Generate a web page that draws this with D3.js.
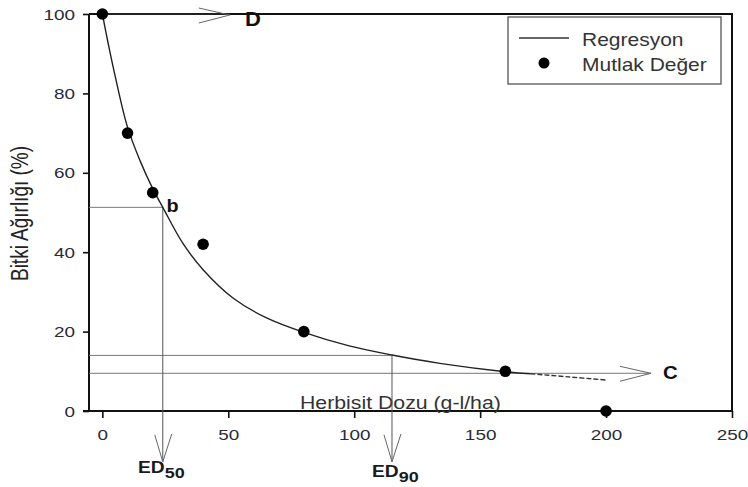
<!doctype html>
<html>
<head>
  <meta charset="utf-8">
  <script src="https://d3js.org/d3.v7.min.js"></script>
  <style>
    body { margin:0; background:#fff; }
    text { font-family: "Liberation Sans", Arial, sans-serif; }
  </style>
</head>
<body>
  <script>
    // measured points (Mutlak Değer)
    var doses = [0, 10, 20, 40, 80, 160, 200];
    var weights = [100, 70, 55, 42, 20, 10, 0];

    // regression curve
    var curveDose = [0, 2.5, 5, 10, 15, 20, 24, 32, 40, 52, 65, 80, 98, 115, 134, 160, 170];
    var curveWeight = [100, 92, 84.6, 71.5, 63, 56, 51.3, 42.2, 35.6, 28.4, 23.5, 19.8, 16.4, 14.1, 12.0, 9.9, 9.4];
    // dashed tail of the curve
    var tailDose = [170, 185, 200];
    var tailWeight = [9.4, 8.6, 7.8];

    var xTicks = [0, 50, 100, 150, 200, 250];
    var yTicks = [0, 20, 40, 60, 80, 100];

    // asymptotes and effective doses
    var upperD = 100, lowerC = 9.5;
    var ed50 = [24, 51.3], ed90 = [115, 14];
    var dArrowEnd = 50.6, cArrowEnd = 217.8, edArrowEnd = -12.8;

    var width = 748, height = 487;

    var svg = d3.select("body").append("svg")
      .attr("width", width)
      .attr("height", height);

    var x = d3.scaleLinear().domain([-5.3, 250]).range([89, 732]);
    var y = d3.scaleLinear().domain([0, 100]).range([411, 14]);

    // frame
    svg.append("path")
      .attr("d", "M" + x(-5.3) + "," + y(100) + "H" + x(250) + "V" + y(0))
      .attr("fill", "none").attr("stroke", "#111").attr("stroke-width", 2);
    svg.append("line")
      .attr("x1", x(-5.3)).attr("x2", x(-5.3)).attr("y1", y(100)).attr("y2", y(0))
      .attr("stroke", "#111").attr("stroke-width", 2);
    svg.append("line")
      .attr("x1", x(-5.3) - 6).attr("x2", x(250)).attr("y1", y(0)).attr("y2", y(0))
      .attr("stroke", "#111").attr("stroke-width", 2);

    // axes
    var leftAxis = svg.append("g")
      .attr("transform", "translate(" + x(-5.3) + ",0)")
      .call(d3.axisLeft(y).tickValues(yTicks).tickSize(6).tickSizeOuter(0));
    var bottomAxis = svg.append("g")
      .attr("transform", "translate(0," + y(0) + ")")
      .call(d3.axisBottom(x).tickValues(xTicks).tickSize(7).tickSizeOuter(0));

    [leftAxis, bottomAxis].forEach(function(g){
      g.select(".domain").remove();
      g.selectAll(".tick line").attr("stroke", "#111").attr("stroke-width", 1.6);
      g.selectAll(".tick text").attr("fill", "#2a2a38").attr("font-size", 14)
        .attr("font-family", "Liberation Sans, Arial, sans-serif");
    });
    leftAxis.selectAll(".tick text")
      .attr("x", 0).attr("dy", "0.36em")
      .attr("transform", "translate(-14,0) scale(1.35,1)");
    bottomAxis.selectAll(".tick text")
      .attr("y", 29).attr("dy", 0)
      .attr("transform", "scale(1.35,1)");

    // axis titles
    svg.append("text")
      .attr("transform", "translate(27.5,213.5) scale(1.3,1) rotate(-90)")
      .attr("text-anchor", "middle")
      .attr("font-size", 19)
      .attr("fill", "#222")
      .text("Bitki Ağırlığı (%)");

    svg.append("text")
      .attr("transform", "translate(300,408.5) scale(1.15,1)")
      .attr("font-size", 18.5)
      .attr("fill", "#333")
      .text("Herbisit Dozu (g-l/ha)");

    // reference lines
    var grey = "#777";
    function hline(v, x2){
      svg.append("line")
        .attr("x1", x(-5.3)).attr("x2", x(x2))
        .attr("y1", y(v)).attr("y2", y(v))
        .attr("stroke", grey).attr("stroke-width", 1);
    }
    hline(ed50[1], ed50[0]);
    hline(ed90[1], ed90[0]);
    hline(lowerC, cArrowEnd);

    function vline(d){
      svg.append("line")
        .attr("x1", x(d[0])).attr("x2", x(d[0]))
        .attr("y1", y(d[1])).attr("y2", y(edArrowEnd))
        .attr("stroke", "#555").attr("stroke-width", 1);
    }
    vline(ed50);
    vline(ed90);

    // D arrow line
    svg.append("line")
      .attr("x1", x(0)).attr("x2", x(dArrowEnd))
      .attr("y1", y(upperD)).attr("y2", y(upperD))
      .attr("stroke", "#333").attr("stroke-width", 1.2);

    // open arrow heads
    function headRight(px, py){
      svg.append("path")
        .attr("d", "M" + (px - 31) + "," + (py - 7) + "L" + px + "," + py + "L" + (px - 31) + "," + (py + 8))
        .attr("fill", "none").attr("stroke", "#666").attr("stroke-width", 1);
    }
    function headDown(px, py){
      svg.append("path")
        .attr("d", "M" + (px - 8) + "," + (py - 27) + "L" + px + "," + py + "L" + (px + 9) + "," + (py - 28))
        .attr("fill", "none").attr("stroke", "#666").attr("stroke-width", 1);
    }
    headRight(x(dArrowEnd), y(upperD) + 1);
    headRight(x(cArrowEnd), y(lowerC));
    headDown(x(ed50[0]), y(edArrowEnd));
    headDown(x(ed90[0]), y(edArrowEnd));

    // regression curve
    var line = d3.line()
      .x(function(d){ return x(d[0]); })
      .y(function(d){ return y(d[1]); })
      .curve(d3.curveCatmullRom.alpha(0.5));

    svg.append("path")
      .datum(curveDose.map(function(d, i){ return [d, curveWeight[i]]; }))
      .attr("d", line)
      .attr("fill", "none").attr("stroke", "#222").attr("stroke-width", 1.4);
    svg.append("path")
      .datum(tailDose.map(function(d, i){ return [d, tailWeight[i]]; }))
      .attr("d", line)
      .attr("fill", "none").attr("stroke", "#333").attr("stroke-width", 1.4)
      .attr("stroke-dasharray", "5,2");

    // points
    svg.selectAll("circle.pt")
      .data(doses.map(function(d, i){ return [d, weights[i]]; }))
      .enter().append("circle")
      .attr("class", "pt")
      .attr("cx", function(d){ return x(d[0]); })
      .attr("cy", function(d){ return y(d[1]); })
      .attr("r", 5.8)
      .attr("fill", "#000");

    // annotation letters
    function label(txt, tx, ty, size, sx){
      return svg.append("text")
        .attr("transform", "translate(" + tx + "," + ty + ") scale(" + sx + ",1)")
        .attr("font-size", size).attr("font-weight", "bold").attr("fill", "#111")
        .text(txt);
    }
    label("D", 245, 25.5, 20, 1.1);
    label("C", 663, 378.5, 18.5, 1.1);
    label("b", 166.5, 211.5, 18, 1.1);

    function edLabel(sub, tx, ty){
      var t = svg.append("text")
        .attr("transform", "translate(" + tx + "," + ty + ") scale(1.2,1)")
        .attr("font-size", 16).attr("font-weight", "bold").attr("fill", "#1a1a1a");
      t.append("tspan").text("ED");
      t.append("tspan").attr("dy", 5).attr("font-size", 15).text(sub);
    }
    edLabel("50", 138, 473);
    edLabel("90", 372, 477);

    // legend
    var legend = svg.append("g");
    legend.append("rect")
      .attr("x", 508).attr("y", 17).attr("width", 213).attr("height", 67)
      .attr("fill", "#fff").attr("stroke", "#555").attr("stroke-width", 1.3);
    legend.append("line")
      .attr("x1", 519).attr("x2", 569).attr("y1", 38).attr("y2", 38)
      .attr("stroke", "#333").attr("stroke-width", 1.4);
    legend.append("circle")
      .attr("cx", 544).attr("cy", 63).attr("r", 5.5).attr("fill", "#000");
    legend.append("text")
      .attr("transform", "translate(582,46) scale(1.2,1)")
      .attr("font-size", 17.5).attr("fill", "#333")
      .text("Regresyon");
    legend.append("text")
      .attr("transform", "translate(582,70.5) scale(1.2,1)")
      .attr("font-size", 17.5).attr("fill", "#333")
      .text("Mutlak Değer");
  </script>
</body>
</html>
